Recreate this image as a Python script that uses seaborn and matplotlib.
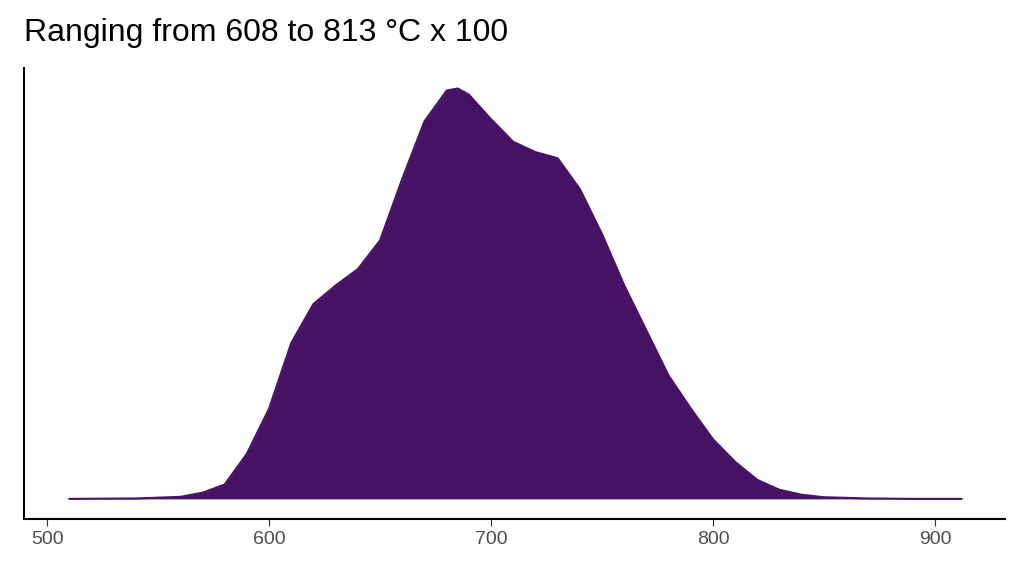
import matplotlib
matplotlib.use("Agg")
import matplotlib.pyplot as plt
import seaborn as sns
import pandas as pd

temps = [510, 540, 560, 570, 580, 590, 600, 610, 620, 630, 640, 650, 660, 670, 680, 685, 690, 700, 710, 720, 730, 740, 750, 760, 770, 780, 790, 800, 810, 820, 830, 840, 850, 870, 890, 912]
density = [0.0, 0.001, 0.005, 0.015, 0.035, 0.11, 0.22, 0.38, 0.475, 0.52, 0.56, 0.63, 0.78, 0.92, 0.995, 1.0, 0.985, 0.925, 0.87, 0.845, 0.83, 0.755, 0.645, 0.52, 0.41, 0.30, 0.22, 0.145, 0.09, 0.046, 0.022, 0.01, 0.004, 0.001, 0.0, 0.0]
xticks = [500, 600, 700, 800, 900]
color = "#471164"

df = pd.DataFrame({"t": temps, "d": density})
sns.set_style("white")
plt.rcParams["font.family"] = ["Liberation Sans", "DejaVu Sans"]
fig = plt.figure(figsize=(10.24, 5.76), dpi=100)
ax = fig.add_axes([24/1024, 1-519/576, (1005-24)/1024, (519-68)/576])
ax.fill_between(df["t"], df["d"], color=color, linewidth=0)
sns.lineplot(data=df, x="t", y="d", color=color, lw=1.5, ax=ax)
ax.set_xlim(489.6, 931.5)
ax.set_ylim(-0.049, 1.05)
ax.set_xticks(xticks)
ax.set_yticks([])
ax.set_xlabel("")
ax.set_ylabel("")
for s in ["top", "right"]:
    ax.spines[s].set_visible(False)
for s in ["left", "bottom"]:
    ax.spines[s].set_color("black")
    ax.spines[s].set_linewidth(1.5)
ax.tick_params(axis="x", bottom=True, length=5, color="#333333", labelsize=14, labelcolor="#4d4d4d")
fig.text(24/1024, 1-33/576, "Ranging from 608 to 813 °C x 100", fontsize=23, va="center", ha="left", color="black")
fig.savefig("out.png", dpi=100)
